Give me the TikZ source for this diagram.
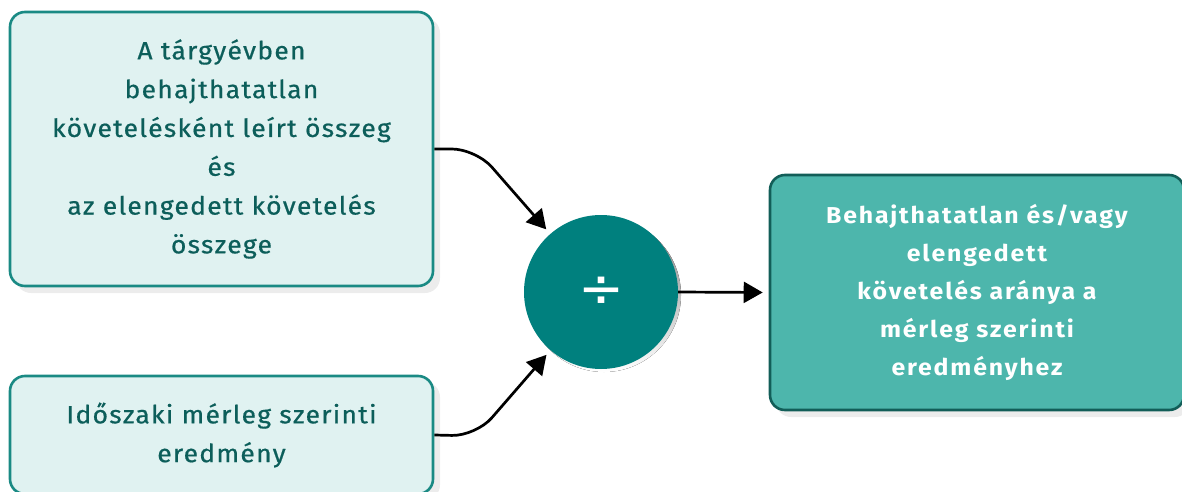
\documentclass[tikz,border=0pt]{standalone}
\usepackage{fontspec}
\usepackage{graphicx}
\setmainfont{Fira Sans}[LetterSpace=5, FakeStretch=1.06, FakeBold=0.6]
\newfontfamily\boldwide{Fira Sans}[LetterSpace=8, FakeStretch=1.08]
\newfontfamily\symfont{DejaVu Sans}
\usetikzlibrary{arrows.meta}
\definecolor{lightfill}{HTML}{E0F2F1}
\definecolor{lightedge}{HTML}{1A8A84}
\definecolor{darktext}{HTML}{0C5E5A}
\definecolor{circfill}{HTML}{00807E}
\definecolor{resfill}{HTML}{4DB6AC}
\definecolor{resedge}{HTML}{125E58}
\definecolor{shade}{HTML}{ECECEC}
\tikzset{
  inbox/.style={draw=lightedge, line width=2.6pt, fill=lightfill, rounded corners=15pt,
    text=darktext, align=center, font=\fontsize{25}{38.8}\selectfont, inner sep=0pt},
  resbox/.style={draw=resedge, line width=2.6pt, fill=resfill, rounded corners=15pt,
    text=white, align=center, font=\boldwide\bfseries\fontsize{23}{38}\selectfont, inner sep=0pt},
  opcirc/.style={circle, fill=circfill, minimum size=154pt, inner sep=0pt, text=white},
  arr/.style={line width=2.7pt, black, -{Triangle[length=19pt,width=21pt]}, rounded corners=24pt},
  boxshade/.style={fill=shade, rounded corners=15pt},
}
\begin{document}
\begin{tikzpicture}[x=1pt,y=-1pt]
  \useasboundingbox (0,0) rectangle (1182,492);
  % soft drop shadows
  \fill[boxshade] (16,18) rectangle (440,293);
  \fill[boxshade] (16,382) rectangle (440,500);
  \fill[boxshade] (776,181) rectangle (1190,417);
  \fill[shade] (604,295) circle (77pt);
  % boxes
  \node[inbox, minimum width=423pt, minimum height=274pt] (src) at (221.5,149)
    {A tárgyévben\\ behajthatatlan\\ követelésként leírt összeg\\ és\\ az elengedett követelés\\ összege};
  \node[inbox, minimum width=423pt, minimum height=118pt] (base) at (221.5,435)
    {Időszaki mérleg szerinti\\ eredmény};
  \node[opcirc] (div) at (601,292) {\resizebox{46pt}{!}{\symfont ÷}};
  \node[resbox, minimum width=414pt, minimum height=235pt] (res) at (977,292.5)
    {Behajthatatlan és/vagy\\ elengedett\\ követelés aránya a\\ mérleg szerinti\\ eredményhez};
  % connectors
  \draw[arr, shorten >=6pt] (src.east) -- (476,149) -- (div);
  \draw[arr, shorten >=6pt] (base.east) -- (476,436) -- (div);
  \draw[arr, shorten >=6pt] (div.east) -- (res.west);
\end{tikzpicture}
\end{document}
